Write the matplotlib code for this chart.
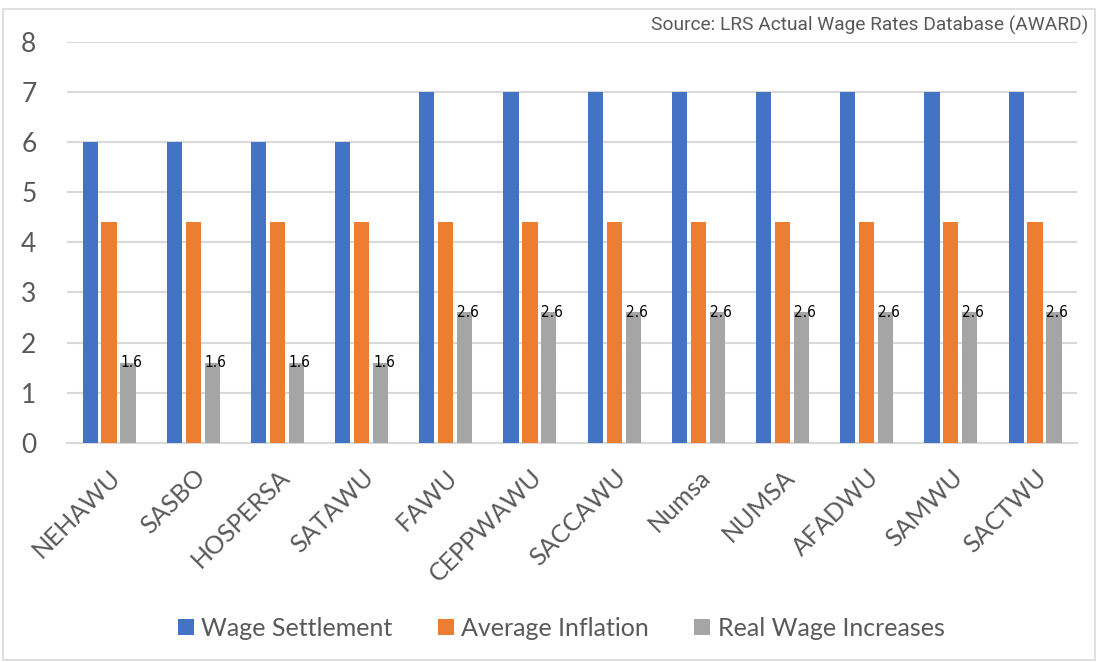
import matplotlib.pyplot as plt
import numpy as np
from matplotlib.patches import Rectangle

unions = ['NEHAWU', 'SASBO', 'HOSPERSA', 'SATAWU', 'FAWU', 'CEPPWAWU',
          'SACCAWU', 'Numsa', 'NUMSA', 'AFADWU', 'SAMWU', 'SACTWU']
wage_settlement = [6, 6, 6, 6, 7, 7, 7, 7, 7, 7, 7, 7]
average_inflation = [4.4, 4.4, 4.4, 4.4, 4.4, 4.4, 4.4, 4.4, 4.4, 4.4, 4.4, 4.4]
real_wage = [1.6, 1.6, 1.6, 1.6, 2.6, 2.6, 2.6, 2.6, 2.6, 2.6, 2.6, 2.6]
series_names = ['Wage Settlement', 'Average Inflation', 'Real Wage Increases']

colors = ['#4472C4', '#ED7D31', '#A5A5A5']
txt = '#595959'
grid = '#D9D9D9'

fig = plt.figure(figsize=(10.98, 6.62), dpi=100)
fig.patches.append(Rectangle((0.003, 0.003), 0.994, 0.983, transform=fig.transFigure,
                             fill=False, edgecolor='#D9D9D9', lw=1.2))
ax = fig.add_axes([0.061, 0.331, 0.920, 0.606])

x = np.arange(len(unions))
w = 0.18
off = 0.225
for vals, o, c, name in zip([wage_settlement, average_inflation, real_wage],
                            [-off, 0, off], colors, series_names):
    ax.bar(x + o, vals, width=w, color=c, label=name, zorder=3)

for xi, v in zip(x, real_wage):
    ax.text(xi + off - w / 2, v, '%.1f' % v, ha='left', va='center',
            fontsize=11, family='DejaVu Sans', stretch='condensed', color='black', zorder=4)

ax.set_xlim(-0.5, len(unions) - 0.5)
ax.set_ylim(0, 8)
ax.set_yticks(range(0, 9))
ax.grid(axis='y', color=grid, lw=1.5, zorder=0)
for s in ['top', 'right', 'left']:
    ax.spines[s].set_visible(False)
ax.spines['bottom'].set_color(grid)
ax.spines['bottom'].set_linewidth(1.5)
ax.tick_params(axis='both', length=0, colors=txt)
ax.tick_params(axis='y', labelsize=19, pad=22)
ax.set_yticklabels([str(i) for i in range(9)], family='Lato')
ax.set_xticks(x)
ax.set_xticklabels(unions, rotation=45, ha='right', rotation_mode='anchor',
                   fontsize=18, family='Lato', color=txt)
ax.tick_params(axis='x', pad=16)

fig.text(0.991, 0.962, 'Source: LRS Actual Wage Rates Database (AWARD)', ha='right', va='center',
         fontsize=13.8, family='Roboto', color=txt)

fig.legend(loc='center', bbox_to_anchor=(0.511, 0.051), ncol=3, frameon=False,
           prop={'family': 'Lato', 'size': 18}, labelcolor=txt,
           handlelength=0.65, handleheight=0.65, handletextpad=0.3, columnspacing=1.8)

fig.savefig('out.png', dpi=100)
